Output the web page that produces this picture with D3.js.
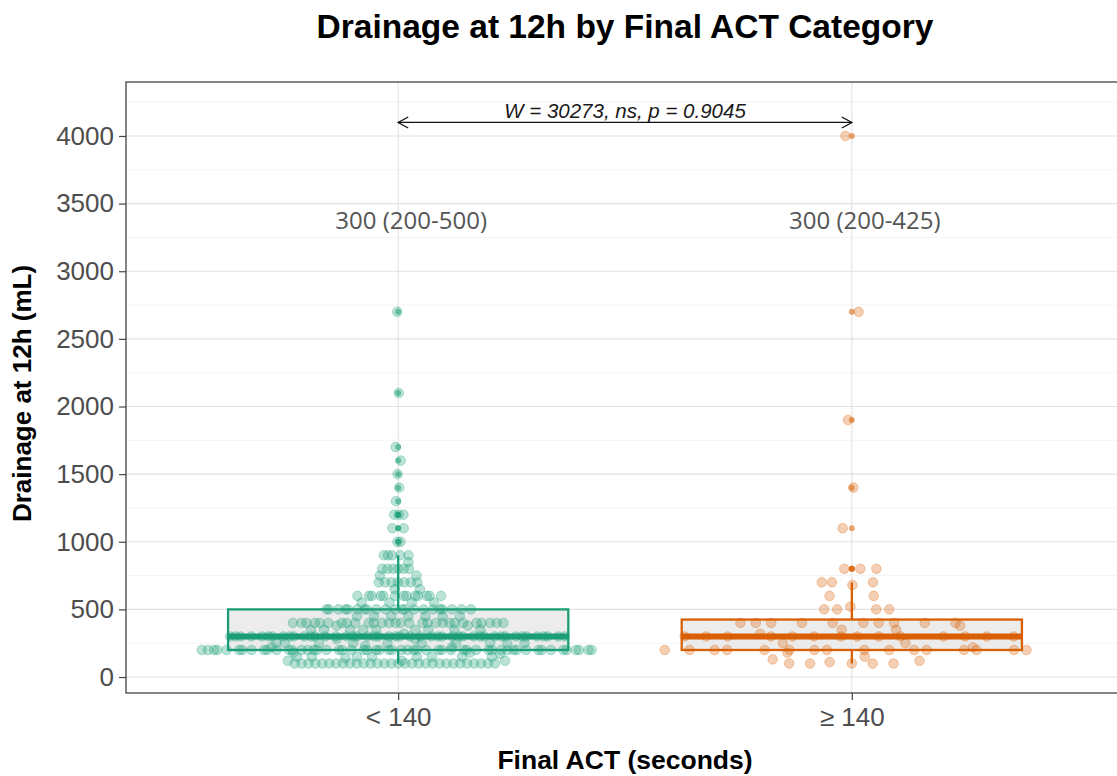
<!DOCTYPE html>
<html>
<head>
<meta charset="utf-8">
<script src="https://cdn.jsdelivr.net/npm/d3@7"></script>
<style>
  body { margin: 0; background: #fff; }
  svg { display: block; }
</style>
</head>
<body>
<svg id="chart" width="1117" height="776"></svg>
<script>
// ---- data -------------------------------------------------------------
const categories = ["< 140", "\u2265 140"];
const groupColors = ["#1b9e77", "#d95f02"];

// Drainage at 12 h (mL), final ACT < 140 s
const drainageLow = [
  100,100,100,100,100, 100,100,100,100,100, 100,100,100,100,100,
  100,100,100,100,100, 100,100,100,100,100, 100,100,100,100,100,
  120,120,120,
  140,150,150,150,150,150,150,150,150,170,180,180,
  200,200,200,200,200,200, 200,200,200,200,200,200, 200,200,200,200,200,200,
  200,200,200,200,200,200, 200,200,200,200,200,200, 200,200,200,200,200,200,
  200,200,200,200,200,200, 200,200,200,200,200,200, 200,200,200,200,200,200,
  220,220,230,250,250,250,250,250,250,250,250,250,250,280,280,
  300,300,300,300,300, 300,300,300,300,300, 300,300,300,300,300, 300,300,300,300,300, 300,300,300,
  300,300,300,300,300, 300,300,300,300,300, 300,300,300,300,300, 300,300,300,300,300, 300,300,300,
  320,350,350,350,350,350,350,350,350,350,380,380,
  400,400,400,400,400,400,400, 400,400,400,400,400,400,400,
  400,400,400,400,400,400,400, 400,400,400,400,400,400,400,
  450,450,450,450,450,450,450,
  500,500,500,500,500,500,500, 500,500,500,500,500,500,500, 500,500,500,500,500,500,500,
  550,550,550,550,
  600,600,600,600,600, 600,600,600,600,600, 600,600,600,
  650,650,
  700,700,700,700,700,700,700,
  750,750,
  800,800,800,800,800,800,
  850,
  900,900,900,900,900,
  1000,1000,1100,1100,1200,1200,1200,1300,1400,1500,1600,1700,2100,2700
];

// Drainage at 12 h (mL), final ACT >= 140 s
const drainageHigh = [
  100,100,100,100,100,110,120,130,
  150,180,
  200,200,200,200,200,200,200,200,200,200,200,200,200,200,200,200,
  220,250,250,
  300,300,300,300,300,300,300,300,300,300,300,300,300,300,
  320,350,350,380,
  400,400,400,400,400,400,400,400,400,400,
  500,500,500,500,520,
  600,600,
  680,700,700,700,
  800,800,800,
  1100,1400,1900,2700,4000
];

const yTicks = [0, 500, 1000, 1500, 2000, 2500, 3000, 3500, 4000];
const testLabel = "W = 30273, ns, p = 0.9045";
const bracketLevel = 4100;   // mL, height of the comparison bracket
const summaryLevel = 3400;   // mL, height of the median (IQR) labels

// ---- layout -----------------------------------------------------------
const panel = { left: 126, top: 82, right: 1124, bottom: 693 };
const svg = d3.select("#chart");

const x = d3.scalePoint().domain(categories).range([panel.left, panel.right]).padding(0.6);
const step = x.step();
const y = d3.scaleLinear().domain([-118, 4399]).range([panel.bottom, panel.top]);

svg.append("defs").append("clipPath").attr("id", "panel-clip")
  .append("rect")
  .attr("x", panel.left).attr("y", panel.top)
  .attr("width", panel.right - panel.left).attr("height", panel.bottom - panel.top);

// ---- grid -------------------------------------------------------------
const grid = svg.append("g").attr("clip-path", "url(#panel-clip)");
const yMinor = yTicks.map(t => t + 250).filter(t => t < y.domain()[1]);
grid.selectAll("line.minor").data(yMinor).join("line")
  .attr("x1", panel.left).attr("x2", panel.right)
  .attr("y1", d => y(d)).attr("y2", d => y(d))
  .attr("stroke", "#f3f3f3").attr("stroke-width", 0.9);
grid.selectAll("line.majy").data(yTicks).join("line")
  .attr("x1", panel.left).attr("x2", panel.right)
  .attr("y1", d => y(d)).attr("y2", d => y(d))
  .attr("stroke", "#e2e2e2").attr("stroke-width", 1.1);
grid.selectAll("line.majx").data(categories).join("line")
  .attr("x1", d => x(d)).attr("x2", d => x(d))
  .attr("y1", panel.top).attr("y2", panel.bottom)
  .attr("stroke", "#e2e2e2").attr("stroke-width", 1.1);

// ---- helpers ----------------------------------------------------------
function vanDerCorput(i) {
  let q = 0, bk = 0.5;
  while (i > 0) { q += (i % 2) * bk; i = Math.floor(i / 2); bk /= 2; }
  return q;
}

// quasirandom horizontal spread, scaled by a kernel density estimate
function quasirandom(values, maxWidth) {
  const s = values.slice().sort(d3.ascending);
  const n = s.length;
  const sd = d3.deviation(s);
  const iqr = d3.quantileSorted(s, 0.75) - d3.quantileSorted(s, 0.25);
  const bw = 0.5 * 0.9 * Math.min(sd, iqr / 1.34) * Math.pow(n, -0.2);
  const dens = v => d3.sum(s, u => Math.exp(-0.5 * ((v - u) / bw) ** 2));
  const maxD = d3.max(s, dens);
  return s.map((v, i) => ({ value: v, offset: (vanDerCorput(i + 1) - 0.5) * 2 * maxWidth * dens(v) / maxD }));
}

function boxStats(values) {
  const s = values.slice().sort(d3.ascending);
  const q1 = d3.quantileSorted(s, 0.25);
  const med = d3.quantileSorted(s, 0.5);
  const q3 = d3.quantileSorted(s, 0.75);
  const iqr = q3 - q1;
  const lo = d3.min(s.filter(v => v >= q1 - 1.5 * iqr));
  const hi = d3.max(s.filter(v => v <= q3 + 1.5 * iqr));
  const outliers = s.filter(v => v < lo || v > hi);
  return { q1, med, q3, lo, hi, outliers };
}

// ---- boxes and points -------------------------------------------------
const groups = [drainageLow, drainageHigh];
const plot = svg.append("g").attr("clip-path", "url(#panel-clip)");
const halfBox = 0.375 * step;

groups.forEach((vals, gi) => {
  const cx = x(categories[gi]);
  const col = groupColors[gi];
  const st = boxStats(vals);
  const g = plot.append("g");

  g.append("line").attr("x1", cx).attr("x2", cx)
    .attr("y1", y(st.hi)).attr("y2", y(st.q3))
    .attr("stroke", col).attr("stroke-width", 2.3);
  g.append("line").attr("x1", cx).attr("x2", cx)
    .attr("y1", y(st.q1)).attr("y2", y(st.lo))
    .attr("stroke", col).attr("stroke-width", 2.3);
  g.append("rect")
    .attr("x", cx - halfBox).attr("width", 2 * halfBox)
    .attr("y", y(st.q3)).attr("height", y(st.q1) - y(st.q3))
    .attr("fill", "#e4e4e4").attr("fill-opacity", 0.7)
    .attr("stroke", col).attr("stroke-width", 2.3);
  g.append("line").attr("x1", cx - halfBox).attr("x2", cx + halfBox)
    .attr("y1", y(st.med)).attr("y2", y(st.med))
    .attr("stroke", col).attr("stroke-width", 6);
  g.selectAll("circle.out").data(st.outliers).join("circle")
    .attr("cx", cx).attr("cy", d => y(d)).attr("r", 3)
    .attr("fill", col).attr("fill-opacity", 0.55);

  const pts = quasirandom(vals, 0.44);
  g.selectAll("circle.pt").data(pts).join("circle")
    .attr("cx", d => cx + d.offset * step)
    .attr("cy", d => y(d.value))
    .attr("r", 4.8)
    .attr("fill", col).attr("fill-opacity", 0.3)
    .attr("stroke", col).attr("stroke-opacity", 0.3).attr("stroke-width", 1);

  // median (IQR) label
  svg.append("text")
    .attr("x", cx + 13).attr("y", y(summaryLevel)).attr("dy", "0.5em")
    .attr("text-anchor", "middle")
    .attr("font-family", "'Open Sans', sans-serif").attr("font-size", 24)
    .attr("fill", "#555")
    .text(`${st.med} (${st.q1}-${st.q3})`);
});

// ---- comparison bracket ----------------------------------------------
const bx0 = x(categories[0]), bx1 = x(categories[1]), by = y(bracketLevel);
const bracket = svg.append("g").attr("stroke", "#111").attr("stroke-width", 1.3).attr("fill", "none");
bracket.append("line").attr("x1", bx0).attr("x2", bx1).attr("y1", by).attr("y2", by);
bracket.append("path").attr("d", `M${bx0 + 10},${by - 5.5}L${bx0},${by}L${bx0 + 10},${by + 5.5}`);
bracket.append("path").attr("d", `M${bx1 - 10},${by - 5.5}L${bx1},${by}L${bx1 - 10},${by + 5.5}`);
svg.append("text")
  .attr("x", (bx0 + bx1) / 2).attr("y", by - 4)
  .attr("text-anchor", "middle")
  .attr("font-family", "'Liberation Sans', Arial, sans-serif")
  .attr("font-style", "italic").attr("font-size", 20.5).attr("fill", "#1a1a1a")
  .text(testLabel);

// ---- panel border and axes -------------------------------------------
svg.append("rect")
  .attr("x", panel.left).attr("y", panel.top)
  .attr("width", panel.right - panel.left).attr("height", panel.bottom - panel.top)
  .attr("fill", "none").attr("stroke", "#444").attr("stroke-width", 1.3);

const fontAxis = "'Liberation Sans', Arial, sans-serif";

const yAxis = svg.append("g")
  .attr("transform", `translate(${panel.left},0)`)
  .call(d3.axisLeft(y).tickValues(yTicks).tickFormat(d3.format("d")).tickSize(7).tickPadding(5));
yAxis.select(".domain").remove();
yAxis.selectAll(".tick line").attr("stroke", "#444").attr("stroke-width", 1.2);
yAxis.selectAll(".tick text")
  .attr("font-family", fontAxis).attr("font-size", 26).attr("fill", "#4d4d4d");

const xAxis = svg.append("g")
  .attr("transform", `translate(0,${panel.bottom})`)
  .call(d3.axisBottom(x).tickSize(7).tickPadding(8));
xAxis.select(".domain").remove();
xAxis.selectAll(".tick line").attr("stroke", "#444").attr("stroke-width", 1.2);
xAxis.selectAll(".tick text")
  .attr("font-family", fontAxis).attr("font-size", 26).attr("fill", "#4d4d4d");

// ---- titles -----------------------------------------------------------
const midX = (panel.left + panel.right) / 2;
svg.append("text")
  .attr("x", midX).attr("y", 38)
  .attr("text-anchor", "middle")
  .attr("font-family", fontAxis).attr("font-weight", "bold").attr("font-size", 33.5)
  .attr("fill", "#000")
  .text("Drainage at 12h by Final ACT Category");

svg.append("text")
  .attr("x", midX).attr("y", 769)
  .attr("text-anchor", "middle")
  .attr("font-family", fontAxis).attr("font-weight", "bold").attr("font-size", 26.5)
  .attr("fill", "#000")
  .text("Final ACT (seconds)");

svg.append("text")
  .attr("transform", `translate(31,${(panel.top + panel.bottom) / 2 + 6}) rotate(-90)`)
  .attr("text-anchor", "middle")
  .attr("font-family", fontAxis).attr("font-weight", "bold").attr("font-size", 26)
  .attr("fill", "#000")
  .text("Drainage at 12h (mL)");
</script>
</body>
</html>
